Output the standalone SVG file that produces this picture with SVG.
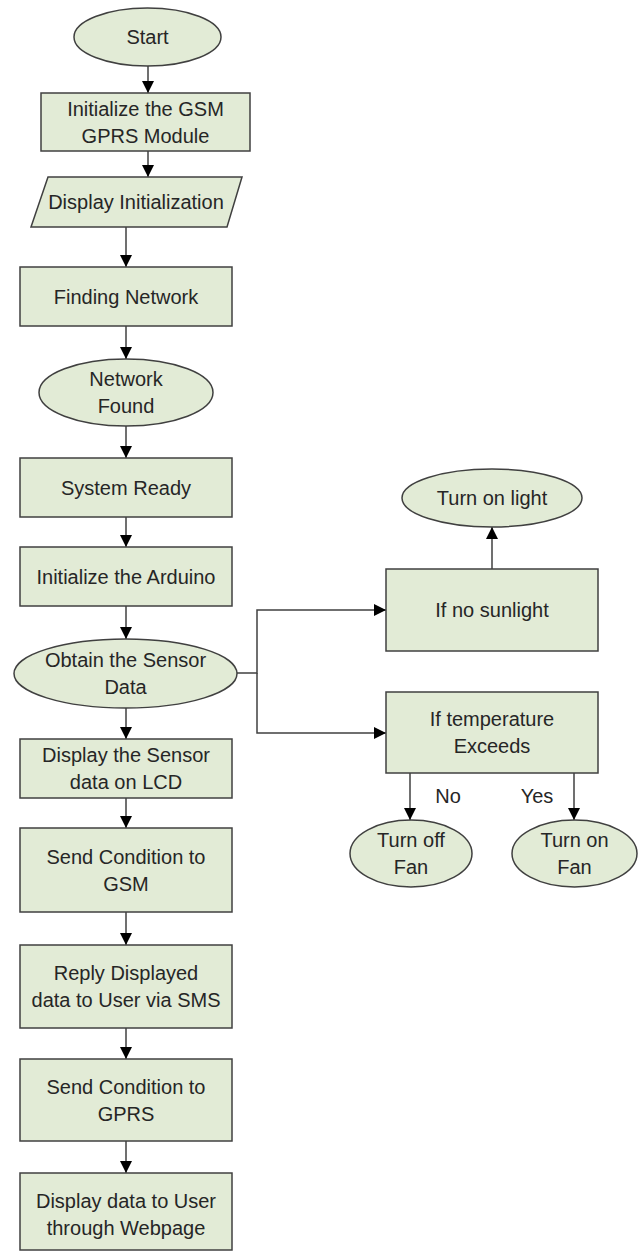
<svg xmlns="http://www.w3.org/2000/svg" width="644" height="1252" viewBox="0 0 644 1252">
<style>
.n{fill:#e2ebd6;stroke:#404040;stroke-width:1.5}
.t{font-family:"Liberation Sans",Arial,sans-serif;font-size:20px;fill:#262626;text-anchor:middle}
.c{fill:none;stroke:#404040;stroke-width:1.5}
</style>
<defs>
<marker id="ah" markerUnits="userSpaceOnUse" markerWidth="12" markerHeight="12" viewBox="0 0 12 12" refX="12" refY="6" orient="auto">
<path d="M0,0 L12,6 L0,12 z" fill="#000"/>
</marker>
</defs>
<rect width="644" height="1252" fill="#fff"/>
<g id="connectors">
<path class="c" d="M148,66 V93" marker-end="url(#ah)"/>
<path class="c" d="M148,151 V177" marker-end="url(#ah)"/>
<path class="c" d="M126,227 V267" marker-end="url(#ah)"/>
<path class="c" d="M126,326 V359" marker-end="url(#ah)"/>
<path class="c" d="M126,426 V458" marker-end="url(#ah)"/>
<path class="c" d="M126,517 V547" marker-end="url(#ah)"/>
<path class="c" d="M126,606 V639" marker-end="url(#ah)"/>
<path class="c" d="M126,708 V739" marker-end="url(#ah)"/>
<path class="c" d="M126,798 V828" marker-end="url(#ah)"/>
<path class="c" d="M126,912 V945" marker-end="url(#ah)"/>
<path class="c" d="M126,1028 V1059" marker-end="url(#ah)"/>
<path class="c" d="M126,1141 V1173" marker-end="url(#ah)"/>
<path class="c" d="M237,673 H257 V610 H386" marker-end="url(#ah)"/>
<path class="c" d="M257,673 V733 H386" marker-end="url(#ah)"/>
<path class="c" d="M492,569 V527" marker-end="url(#ah)"/>
<path class="c" d="M410,773 V820" marker-end="url(#ah)"/>
<path class="c" d="M574,773 V820" marker-end="url(#ah)"/>
<text class="t" x="448" y="803">No</text>
<text class="t" x="537" y="803">Yes</text>
</g>
<g id="start"><ellipse class="n" cx="147.5" cy="37" rx="73.5" ry="29"/><text class="t" x="147.5" y="44">Start</text></g>
<g id="init-gsm"><rect class="n" x="41" y="93" width="209" height="58"/><text class="t" x="145.5" y="115.5">Initialize the GSM</text><text class="t" x="145.5" y="142.5">GPRS Module</text></g>
<g id="display-init"><polygon class="n" points="48,177 242,177 227,227 31,227"/><text class="t" x="136" y="209">Display Initialization</text></g>
<g id="finding"><rect class="n" x="20" y="267" width="212" height="59"/><text class="t" x="126" y="303.5">Finding Network</text></g>
<g id="found"><ellipse class="n" cx="126" cy="392.5" rx="87" ry="33.5"/><text class="t" x="126" y="386">Network</text><text class="t" x="126" y="413">Found</text></g>
<g id="ready"><rect class="n" x="20" y="458" width="212" height="59"/><text class="t" x="126" y="494.5">System Ready</text></g>
<g id="init-arduino"><rect class="n" x="20" y="547" width="212" height="59"/><text class="t" x="126" y="583.5">Initialize the Arduino</text></g>
<g id="obtain"><ellipse class="n" cx="125.5" cy="673.5" rx="111.5" ry="34.5"/><text class="t" x="125.5" y="667">Obtain the Sensor</text><text class="t" x="125.5" y="694">Data</text></g>
<g id="display-sensor"><rect class="n" x="20" y="739" width="212" height="59"/><text class="t" x="126" y="762">Display the Sensor</text><text class="t" x="126" y="789">data on LCD</text></g>
<g id="send-gsm"><rect class="n" x="20" y="828" width="212" height="84"/><text class="t" x="126" y="863.5">Send Condition to</text><text class="t" x="126" y="890.5">GSM</text></g>
<g id="reply"><rect class="n" x="20" y="945" width="212" height="83"/><text class="t" x="126" y="980">Reply Displayed</text><text class="t" x="126" y="1007">data to User via SMS</text></g>
<g id="send-gprs"><rect class="n" x="20" y="1059" width="212" height="82"/><text class="t" x="126" y="1093.5">Send Condition to</text><text class="t" x="126" y="1120.5">GPRS</text></g>
<g id="display-web"><rect class="n" x="20" y="1173" width="212" height="77"/><text class="t" x="126" y="1208">Display data to User</text><text class="t" x="126" y="1235">through Webpage</text></g>
<g id="sunlight"><rect class="n" x="386" y="569" width="212" height="82"/><text class="t" x="492" y="617">If no sunlight</text></g>
<g id="light"><ellipse class="n" cx="492" cy="498" rx="90" ry="29"/><text class="t" x="492" y="505">Turn on light</text></g>
<g id="temperature"><rect class="n" x="386" y="692" width="212" height="81"/><text class="t" x="492" y="726">If temperature</text><text class="t" x="492" y="753">Exceeds</text></g>
<g id="fan-off"><ellipse class="n" cx="411" cy="853.5" rx="61" ry="33.5"/><text class="t" x="411" y="847">Turn off</text><text class="t" x="411" y="874">Fan</text></g>
<g id="fan-on"><ellipse class="n" cx="574.5" cy="853.5" rx="62.5" ry="33.5"/><text class="t" x="574.5" y="847">Turn on</text><text class="t" x="574.5" y="874">Fan</text></g>
</svg>
